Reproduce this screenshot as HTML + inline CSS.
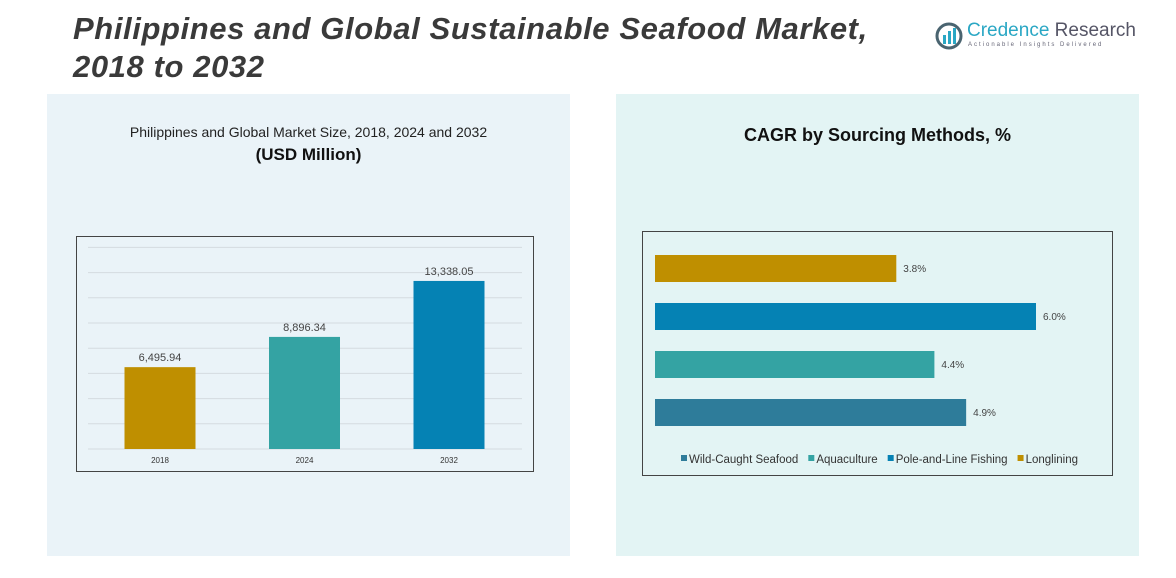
<!DOCTYPE html>
<html><head><meta charset="utf-8"><style>
body{margin:0;width:1176px;height:578px;overflow:hidden;background:#fff;font-family:"Liberation Sans",sans-serif;position:relative}
.abs{position:absolute}
</style></head><body>
<div class="abs" style="left:73px;top:10px;font-size:31px;letter-spacing:0.6px;font-weight:bold;font-style:italic;color:#3a3a3a;line-height:38px">Philippines and Global Sustainable Seafood Market,<br>2018 to 2032</div>
<div class="abs" style="left:935px;top:20px;width:240px;height:34px">
<svg width="30" height="30" style="position:absolute;left:0;top:2px"><circle cx="14" cy="14" r="12" fill="none" stroke="#4a6470" stroke-width="3"/><rect x="8" y="13" width="3" height="9" fill="#2aa7c4"/><rect x="13" y="9" width="3" height="13" fill="#2aa7c4"/><rect x="18" y="6" width="3" height="16" fill="#2aa7c4"/></svg>
<span style="position:absolute;left:32px;top:0;font-size:19px;color:#2aa7c4">Credence <span style="color:#556">Research</span></span>
<span style="position:absolute;left:33px;top:22px;font-size:6px;letter-spacing:2px;color:#667">Actionable Insights Delivered</span>
</div>
<div class="abs" style="left:47px;top:94px;width:523px;height:462px;background:#eaf3f8"></div>
<div class="abs" style="left:616px;top:94px;width:523px;height:462px;background:#e3f4f4"></div>
<div class="abs" style="left:47px;top:124px;width:523px;text-align:center;font-size:14px;color:#222">Philippines and Global Market Size, 2018, 2024 and 2032</div>
<div class="abs" style="left:47px;top:145px;width:523px;text-align:center;font-size:17px;font-weight:bold;color:#111">(USD Million)</div>
<div class="abs" style="left:616px;top:125px;width:523px;text-align:center;font-size:18px;font-weight:bold;color:#111">CAGR by Sourcing Methods, %</div>
<svg class="abs" style="left:0;top:0" width="1176" height="578" id="svg">
<rect x="76.5" y="236.5" width="457" height="235" fill="none" stroke="#444" stroke-width="1"/>
<rect x="642.5" y="231.5" width="470" height="244" fill="none" stroke="#444" stroke-width="1"/>
<g id="left"></g><g id="right"></g>
</svg>
<script>
const years=["2018","2024","2032"];
const sizes=[6495.94,8896.34,13338.05];
const sizeLabels=["6,495.94","8,896.34","13,338.05"];
const barColors=["#BF8F00","#34A3A3","#0582B4"];
const methods=["Longlining","Pole-and-Line Fishing","Aquaculture","Wild-Caught Seafood"];
const cagr=[3.8,6.0,4.4,4.9];
const cagrColors=["#BF8F00","#0582B4","#34A3A3","#2E7C9A"];
const legendOrder=["Wild-Caught Seafood","Aquaculture","Pole-and-Line Fishing","Longlining"];
const legendColors=["#2E7C9A","#34A3A3","#0582B4","#BF8F00"];
const NS="http://www.w3.org/2000/svg";
function mk(t,a,p){const e=document.createElementNS(NS,t);for(const k in a)e.setAttribute(k,a[k]);p.appendChild(e);return e;}
const L=document.getElementById('left'),R=document.getElementById('right');
const y0=449,yScale=v=>y0-v*25.2/2000;
for(let i=0;i<=8;i++){const g=mk('line',{x1:88,x2:522,y1:yScale(i*2000),y2:yScale(i*2000),stroke:'#d4dbe0','stroke-width':1},L);
}
const xc=i=>160+i*144.5;
years.forEach((y,i)=>{
const b=mk('rect',{x:xc(i)-35.5,y:yScale(sizes[i]),width:71,height:y0-yScale(sizes[i]),fill:barColors[i]},L);

const t=mk('text',{x:xc(i),y:yScale(sizes[i])-6,'text-anchor':'middle','font-size':11,fill:'#444'},L);t.textContent=sizeLabels[i];

const x=mk('text',{x:xc(i),y:463,'text-anchor':'middle','font-size':8,fill:'#333'},L);x.textContent=y;

});
const xs=v=>655+v*63.5;
methods.forEach((m,i)=>{
const yy=255+i*48;
const b=mk('rect',{x:655,y:yy,width:xs(cagr[i])-655,height:27,fill:cagrColors[i]},R);

const t=mk('text',{x:xs(cagr[i])+7,y:yy+17,'font-size':10,fill:'#444'},R);t.textContent=cagr[i].toFixed(1)+'%';

});
let lx=681;
legendOrder.forEach((n,i)=>{
const s=mk('rect',{x:lx,y:455,width:6,height:6,fill:legendColors[i]},R);

const t=mk('text',{x:lx+8,y:463,'font-size':11.5,fill:'#333'},R);t.textContent=n;

lx+=t.getComputedTextLength()+18;
});
</script>
</body></html>
